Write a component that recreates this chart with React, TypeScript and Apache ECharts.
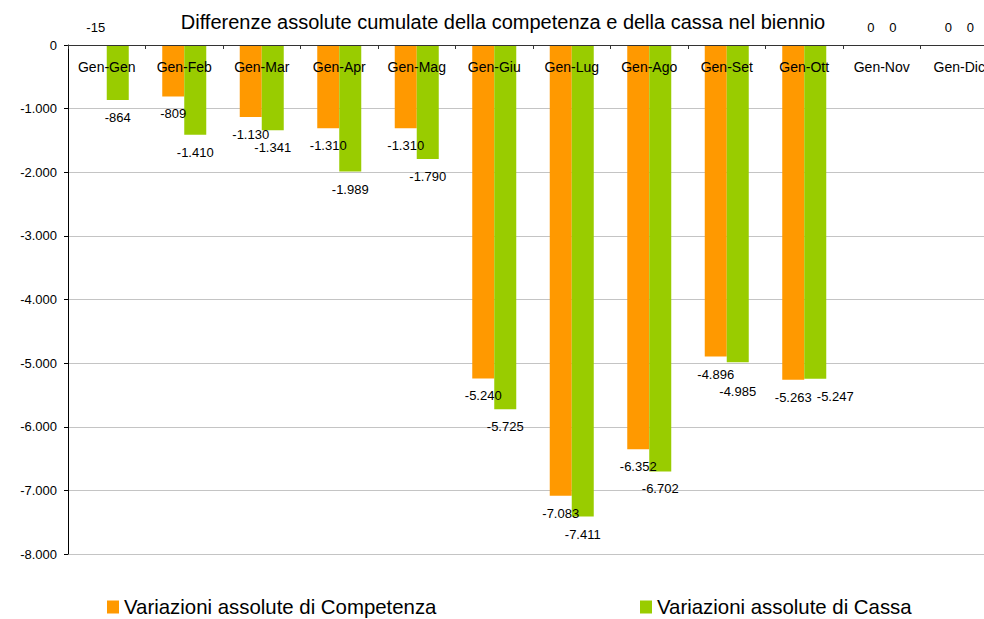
import React, { useEffect, useRef } from "react";
import * as echarts from "echarts";

const categories = ["Gen-Gen", "Gen-Feb", "Gen-Mar", "Gen-Apr", "Gen-Mag", "Gen-Giu", "Gen-Lug", "Gen-Ago", "Gen-Set", "Gen-Ott", "Gen-Nov", "Gen-Dic"];
const competenza = [-15, -809, -1130, -1310, -1310, -5240, -7083, -6352, -4896, -5263, 0, 0];
const cassa = [-864, -1410, -1341, -1989, -1790, -5725, -7411, -6702, -4985, -5247, 0, 0];
const seriesNames = ["Variazioni assolute di Competenza", "Variazioni assolute di Cassa"];
const titleText = "Differenze assolute cumulate della competenza e della cassa nel biennio";

const FONT = "'Liberation Sans', Arial, sans-serif";

// label nudges (style only) to mimic the original's collision handling
const competenzaLabelOffsets: Record<number, [number, number]> = {};
const cassaLabelOffsets: Record<number, [number, number]> = { 8: [0, 12], 9: [20, 0] };

function fmt(v: number): string {
  const s = Math.abs(Math.round(v)).toString().replace(/\B(?=(\d{3})+(?!\d))/g, ".");
  return (v < 0 ? "-" : "") + s;
}

function makeData(values: number[], offsets: Record<number, [number, number]>) {
  return values.map((v, i) => {
    const small = Math.abs(v) < 100;
    const label: any = small
      ? { position: "top", distance: 11 }
      : { position: "bottom", distance: 11 };
    if (offsets[i]) label.offset = offsets[i];
    return { value: v, label };
  });
}

export default function App() {
  const ref = useRef<HTMLDivElement>(null);
  useEffect(() => {
    if (!ref.current) return;
    const chart = echarts.init(ref.current, undefined, { renderer: "svg" });
    const labelCommon = {
      show: true,
      color: "#000",
      fontSize: 13,
      fontFamily: FONT,
      formatter: (p: any) => fmt(p.value),
    };
    const legendCommon = {
      top: 592,
      icon: "rect",
      itemWidth: 12,
      itemHeight: 13,
      textStyle: { fontSize: 20.4, color: "#000", fontFamily: FONT },
    };
    chart.setOption({
      animation: false,
      backgroundColor: "#fff",
      textStyle: { fontFamily: FONT },
      title: {
        text: titleText,
        left: 498,
        textAlign: "center",
        top: 7,
        textStyle: { fontSize: 20, fontWeight: "normal", color: "#000", fontFamily: FONT },
      },
      legend: [
        { ...legendCommon, data: [seriesNames[0]], left: 102 },
        { ...legendCommon, data: [seriesNames[1]], left: 635 },
      ],
      grid: { left: 68, top: 45, width: 930, height: 509, containLabel: false },
      xAxis: {
        type: "category",
        data: categories,
        position: "top",
        z: 10,
        axisLine: { onZero: false, lineStyle: { color: "#333", width: 1 } },
        axisTick: { show: true, inside: true, length: 4, lineStyle: { color: "#333" } },
        axisLabel: { interval: 0, inside: true, margin: 15, fontSize: 14, color: "#000", fontFamily: FONT },
        splitLine: { show: false },
      },
      yAxis: {
        type: "value",
        min: -8000,
        max: 0,
        interval: 1000,
        axisLine: { show: true, lineStyle: { color: "#000" } },
        axisTick: { show: true, length: 4, lineStyle: { color: "#000" } },
        axisLabel: {
          margin: 11,
          fontSize: 13,
          color: "#000",
          fontFamily: FONT,
          formatter: (v: number) => fmt(v),
        },
        splitLine: { show: true, lineStyle: { color: "#c4c4c4", width: 1 } },
      },
      series: [
        {
          name: seriesNames[0],
          type: "bar",
          data: makeData(competenza, competenzaLabelOffsets),
          barWidth: 22,
          barGap: "0%",
          itemStyle: { color: "#FF9900" },
          label: labelCommon,
        },
        {
          name: seriesNames[1],
          type: "bar",
          data: makeData(cassa, cassaLabelOffsets),
          barWidth: 22,
          barGap: "0%",
          itemStyle: { color: "#99CC00" },
          label: labelCommon,
        },
      ],
    });
    return () => chart.dispose();
  }, []);
  return (
    <div style={{ position: "absolute", left: 0, top: 0, width: 984, height: 619, overflow: "hidden" }}>
      <div ref={ref} style={{ width: 1000, height: 619 }} />
    </div>
  );
}
